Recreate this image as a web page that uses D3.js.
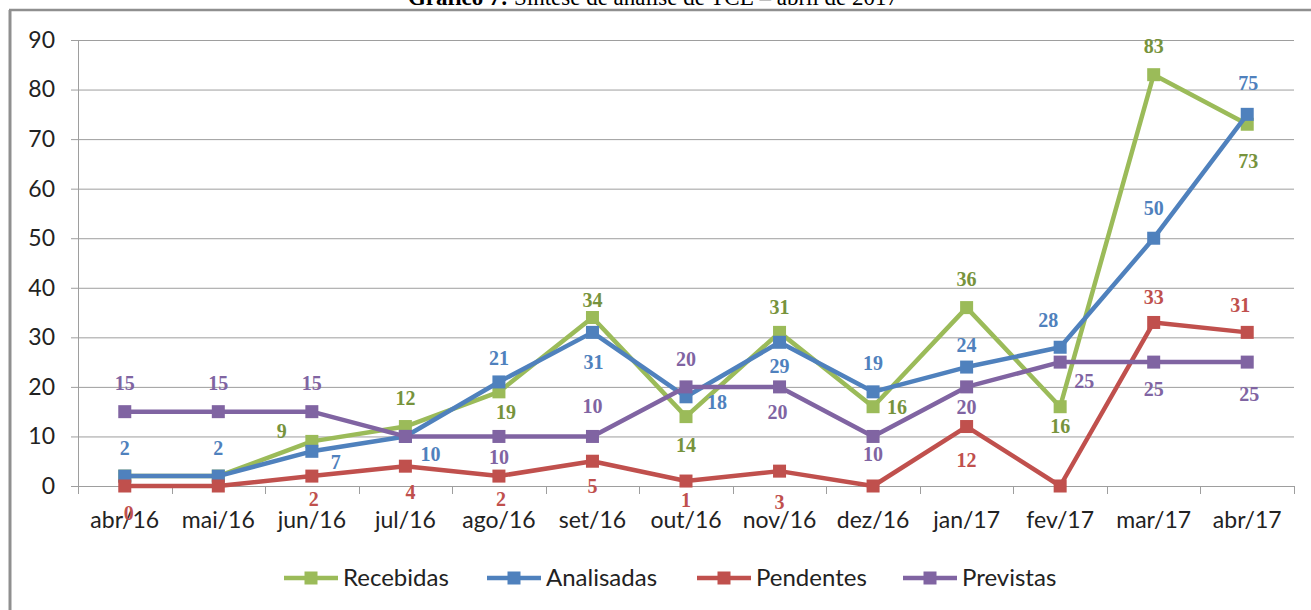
<!DOCTYPE html>
<html>
<head>
<meta charset="utf-8">
<script src="https://cdn.jsdelivr.net/npm/d3@7"></script>
<style>
  html, body { margin: 0; padding: 0; background: #fff; }
  svg { display: block; }
</style>
</head>
<body>
<svg id="chart" width="1311" height="610"></svg>
<script>
// Months of the period (abr/2016 – abr/2017)
const categories = ["abr/16","mai/16","jun/16","jul/16","ago/16","set/16","out/16","nov/16","dez/16","jan/17","fev/17","mar/17","abr/17"];

// Monthly counts per series
const recebidas  = [2, 2, 9, 12, 19, 34, 14, 31, 16, 36, 16, 83, 73];
const analisadas = [2, 2, 7, 10, 21, 31, 18, 29, 19, 24, 28, 50, 75];
const pendentes  = [0, 0, 2, 4, 2, 5, 1, 3, 0, 12, 0, 33, 31];
const previstas  = [15, 15, 15, 10, 10, 10, 20, 20, 10, 20, 25, 25, 25];

const seriesNames = ["Recebidas", "Analisadas", "Pendentes", "Previstas"];
const yTicks = [0, 10, 20, 30, 40, 50, 60, 70, 80, 90];

const titleBold = "Gráfico 7:";
const titleRest = " Síntese de análise de TCE – abril de 2017";

// Label placement relative to each marker [dx, dy]; null = label not shown
const labelOffsets = [
  [null, null, [-30,-10], [0,-29], [7,20], [0,-18], [0,28], [0,-25], [24,0], [0,-29], [0,19], [0,-29], [1,37]],
  [[0,-28], [0,-28], [24,11], [25,18], [0,-24], [1,30], [31,5], [0,24], [0,-29], [0,-22], [-12,-27], [0,-30], [1,-31]],
  [[4,27], null, [2,23], [5,26], [2,23], [0,25], [0,19], [0,31], null, [0,33], null, [0,-25], [-7,-27]],
  [[0,-29], [0,-29], [0,-29], null, [0,21], [0,-30], [0,-28], [-2,25], [0,18], [0,20], [24,19], [0,27], [2,32]]
];

const lineColors  = ["#9BBB59", "#4F81BD", "#C0504D", "#8064A2"];
const labelColors = ["#77933C", "#4F81BD", "#C0504D", "#8064A2"];

const seriesValues = [recebidas, analisadas, pendentes, previstas];
const series = seriesNames.map((name, i) => ({
  name, color: lineColors[i], labelColor: labelColors[i],
  points: categories.map((c, j) => ({ cat: c, value: seriesValues[i][j], off: labelOffsets[i][j] }))
}));

const svg = d3.select("#chart");

// Outer frame (left and top edges)
svg.append("line").attr("x1", 10).attr("x2", 10).attr("y1", 10).attr("y2", 610)
  .attr("stroke", "#8f8f8f").attr("stroke-width", 3);
svg.append("line").attr("x1", 9).attr("x2", 1311).attr("y1", 10).attr("y2", 10)
  .attr("stroke", "#8f8f8f").attr("stroke-width", 2.5);

// Title, clipped by the top of the page
const title = svg.append("text")
  .attr("x", 653).attr("y", 5).attr("text-anchor", "middle")
  .attr("font-family", "'Liberation Serif', 'Times New Roman', serif")
  .attr("font-size", 23).attr("fill", "#000");
title.append("tspan").attr("font-weight", "bold").text(titleBold);
title.append("tspan").text(titleRest);

const x = d3.scaleBand().domain(categories).range([78, 1294]).padding(0);
const y = d3.scaleLinear().domain([0, 90]).range([486, 40]);

// Horizontal gridlines
const gy = svg.append("g").attr("transform", "translate(1294,0)")
  .call(d3.axisLeft(y).tickValues(yTicks).tickSize(1294 - 71).tickFormat(""));
gy.select(".domain").remove();
gy.selectAll(".tick line").attr("stroke", "#9e9e9e").attr("stroke-width", 1);

// Y tick labels
const gyl = svg.append("g").attr("transform", "translate(71,0)")
  .call(d3.axisLeft(y).tickValues(yTicks).tickSize(0).tickPadding(16));
gyl.select(".domain").remove();
gyl.selectAll(".tick text")
  .attr("font-family", "Lato, 'Open Sans', sans-serif").attr("font-size", 23).attr("fill", "#222");

// Vertical axis line
svg.append("line").attr("x1", 78.5).attr("x2", 78.5).attr("y1", y(90)).attr("y2", 494)
  .attr("stroke", "#9e9e9e").attr("stroke-width", 1);

// Category axis: ticks at band boundaries, labels centred in bands
const gx = svg.append("g").attr("transform", "translate(0,486)")
  .call(d3.axisBottom(x).tickSize(0).tickPadding(26));
gx.select(".domain").attr("stroke", "#9e9e9e");
gx.selectAll(".tick text")
  .attr("font-family", "Lato, 'Open Sans', sans-serif").attr("font-size", 23).attr("fill", "#222");
const boundaries = categories.map(c => x(c)).concat([x.range()[1]]);
svg.append("g").selectAll("line").data(boundaries).join("line")
  .attr("x1", d => Math.round(d) + 0.5).attr("x2", d => Math.round(d) + 0.5)
  .attr("y1", 486).attr("y2", 494)
  .attr("stroke", "#9e9e9e").attr("stroke-width", 1);

const cx = d => x(d.cat) + x.bandwidth() / 2;
const line = d3.line().x(cx).y(d => y(d.value));
const mk = 13;

// Series lines and square markers
series.forEach(s => {
  const g = svg.append("g");
  g.append("path").datum(s.points).attr("d", line)
    .attr("fill", "none").attr("stroke", s.color).attr("stroke-width", 4.5)
    .attr("stroke-linejoin", "round");
  g.selectAll("rect").data(s.points).join("rect")
    .attr("x", d => cx(d) - mk / 2).attr("y", d => y(d.value) - mk / 2)
    .attr("width", mk).attr("height", mk).attr("fill", s.color);
});

// Data labels
series.forEach(s => {
  svg.append("g").selectAll("text").data(s.points.filter(d => d.off)).join("text")
    .attr("x", d => cx(d) + d.off[0]).attr("y", d => y(d.value) + d.off[1])
    .attr("dy", "0.35em").attr("text-anchor", "middle")
    .attr("font-family", "'Liberation Serif', 'Times New Roman', serif")
    .attr("font-weight", "bold").attr("font-size", 20)
    .attr("fill", s.labelColor).text(d => d.value);
});

// Legend
const legendX = [284, 487, 697, 903];
const legend = svg.append("g");
series.forEach((s, i) => {
  const g = legend.append("g").attr("transform", `translate(${legendX[i]},578)`);
  g.append("line").attr("x1", 0).attr("x2", 54).attr("y1", 0).attr("y2", 0)
    .attr("stroke", s.color).attr("stroke-width", 4.5);
  g.append("rect").attr("x", 27 - mk / 2).attr("y", -mk / 2).attr("width", mk).attr("height", mk)
    .attr("fill", s.color);
  g.append("text").attr("x", 59).attr("y", 0).attr("dy", "0.35em")
    .attr("font-family", "Lato, 'Open Sans', sans-serif").attr("font-size", 24)
    .attr("fill", "#222").text(s.name);
});
</script>
</body>
</html>
